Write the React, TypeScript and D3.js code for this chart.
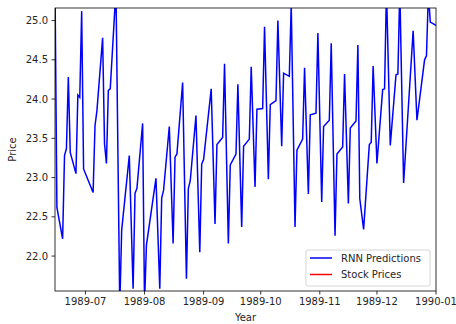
import React, { useEffect } from 'react';
import * as d3 from 'd3';

// RNN predictions (turning points only)
const dates = [
  '1989-06-15', '1989-06-16', '1989-06-19', '1989-06-20', '1989-06-21', '1989-06-22', '1989-06-23',
  '1989-06-26', '1989-06-27', '1989-06-28', '1989-06-29', '1989-06-30', '1989-07-05', '1989-07-06',
  '1989-07-07', '1989-07-10', '1989-07-11', '1989-07-12', '1989-07-13', '1989-07-14', '1989-07-17',
  '1989-07-19', '1989-07-20', '1989-07-24', '1989-07-26', '1989-07-27', '1989-07-28', '1989-07-31',
  '1989-08-01', '1989-08-02', '1989-08-07', '1989-08-09', '1989-08-10', '1989-08-11', '1989-08-14',
  '1989-08-16', '1989-08-17', '1989-08-18', '1989-08-21', '1989-08-23', '1989-08-24', '1989-08-25',
  '1989-08-28', '1989-08-30', '1989-08-31', '1989-09-01', '1989-09-05', '1989-09-07', '1989-09-08',
  '1989-09-11', '1989-09-12', '1989-09-14', '1989-09-15', '1989-09-18', '1989-09-19', '1989-09-21',
  '1989-09-22', '1989-09-25', '1989-09-26', '1989-09-28', '1989-09-29', '1989-10-02', '1989-10-03',
  '1989-10-05', '1989-10-06', '1989-10-09', '1989-10-10', '1989-10-12', '1989-10-13', '1989-10-16',
  '1989-10-17', '1989-10-19', '1989-10-20', '1989-10-23', '1989-10-24', '1989-10-26', '1989-10-27',
  '1989-10-30', '1989-10-31', '1989-11-02', '1989-11-03', '1989-11-06', '1989-11-07', '1989-11-09',
  '1989-11-10', '1989-11-13', '1989-11-14', '1989-11-16', '1989-11-17', '1989-11-20', '1989-11-21',
  '1989-11-22', '1989-11-24', '1989-11-27', '1989-11-28', '1989-11-29', '1989-12-01', '1989-12-04',
  '1989-12-05', '1989-12-06', '1989-12-08', '1989-12-11', '1989-12-12', '1989-12-13', '1989-12-15',
  '1989-12-20', '1989-12-22', '1989-12-26', '1989-12-27', '1989-12-28', '1989-12-29', '1990-01-01',
];

const predictions = [
  25.45, 22.62, 22.22, 23.28, 23.37, 24.28, 23.32,
  23.05, 24.05, 24.02, 25.12, 23.11, 22.81, 23.66,
  23.85, 24.78, 23.43, 23.18, 24.11, 24.13, 25.4,
  21.35, 22.33, 23.28, 21.585, 22.8, 22.86, 23.69,
  21.4, 22.14, 22.99, 21.585, 22.74, 22.84, 23.65,
  22.16, 23.26, 23.3, 24.21, 21.71, 22.86, 22.96,
  23.79, 22.05, 23.17, 23.23, 24.13, 22.41, 23.42,
  23.51, 24.45, 22.16, 23.16, 23.3, 24.19, 22.37,
  23.4, 23.49, 24.41, 22.88, 23.87, 23.88, 24.92,
  22.98, 23.93, 23.98, 25.0, 23.4, 24.33, 24.29,
  25.2, 22.37, 23.35, 23.49, 24.4, 22.79, 23.8,
  23.82, 24.84, 22.69, 23.65, 23.73, 24.71, 22.26,
  23.3, 23.39, 24.32, 22.67, 23.63, 23.72, 24.69,
  22.73, 22.34, 23.42, 23.45, 24.42, 23.18, 24.12,
  24.13, 25.4, 23.41, 24.31, 24.32, 25.4, 22.93,
  24.87, 23.73, 24.5, 24.55, 25.35, 24.98, 24.94,
];

const yTicks = [22.0, 22.5, 23.0, 23.5, 24.0, 24.5, 25.0];
const xTicks = ['1989-07-01', '1989-08-01', '1989-09-01', '1989-10-01', '1989-11-01', '1989-12-01', '1990-01-01'];
const legendItems = [
  { label: 'RNN Predictions', color: '#0000ff' },
  { label: 'Stock Prices', color: '#ff0000' },
];

const W = 456;
const H = 324;
const m = { left: 55, right: 20, top: 8, bottom: 33 };
const font = 'DejaVu Sans, sans-serif';

export default function App() {
  useEffect(() => {
    document.body.style.margin = '0';
  }, []);

  const parse = d3.utcParse('%Y-%m-%d');
  const points = dates.map((d, i) => ({ date: parse(d) as Date, value: predictions[i] }));

  const x = d3
    .scaleUtc()
    .domain(d3.extent(points, (p) => p.date) as [Date, Date])
    .range([m.left, W - m.right]);
  const y = d3.scaleLinear().domain([21.555, 25.16]).range([H - m.bottom, m.top]);

  const line = d3
    .line<{ date: Date; value: number }>()
    .x((p) => x(p.date))
    .y((p) => y(p.value));

  const fmt = d3.utcFormat('%Y-%m');
  const x0 = m.left;
  const x1 = W - m.right;
  const y0 = H - m.bottom;
  const y1 = m.top;

  return (
    <svg width={W} height={H} style={{ display: 'block', background: '#fff' }} fontFamily={font}>
      <defs>
        <clipPath id="plot">
          <rect x={x0} y={y1} width={x1 - x0} height={y0 - y1} />
        </clipPath>
      </defs>

      <path d={line(points) ?? ''} fill="none" stroke="#0000ff" strokeWidth={1.5} clipPath="url(#plot)" />

      {/* spines */}
      <rect x={x0} y={y1} width={x1 - x0} height={y0 - y1} fill="none" stroke="#000" strokeWidth={0.8} />

      {yTicks.map((t) => (
        <g key={t}>
          <line x1={x0} x2={x0 - 3.5} y1={y(t)} y2={y(t)} stroke="#000" strokeWidth={0.8} />
          <text x={x0 - 7} y={y(t)} dy="0.35em" textAnchor="end" fontSize={10} fill="#262626">
            {t.toFixed(1)}
          </text>
        </g>
      ))}

      {xTicks.map((t) => {
        const d = parse(t) as Date;
        return (
          <g key={t}>
            <line x1={x(d)} x2={x(d)} y1={y0} y2={y0 + 3.5} stroke="#000" strokeWidth={0.8} />
            <text x={x(d)} y={y0 + 14} textAnchor="middle" fontSize={10} fill="#262626">
              {fmt(d)}
            </text>
          </g>
        );
      })}

      <text x={(x0 + x1) / 2} y={H - 3} textAnchor="middle" fontSize={10} fill="#262626">
        Year
      </text>
      <text
        transform={`translate(16,${(y0 + y1) / 2}) rotate(-90)`}
        textAnchor="middle"
        fontSize={10}
        fill="#262626"
      >
        Price
      </text>

      {/* legend */}
      <g transform={`translate(${x1 - 130},${y0 - 41})`}>
        <rect width={124} height={36} rx={2} fill="#fff" fillOpacity={0.8} stroke="#cccccc" strokeWidth={0.8} />
        {legendItems.map((it, i) => (
          <g key={it.label} transform={`translate(0,${8 + i * 16.5})`}>
            <line x1={4} x2={26} y1={0} y2={0} stroke={it.color} strokeWidth={1.5} />
            <text x={35} y={0} dy="0.35em" fontSize={10} fill="#262626">
              {it.label}
            </text>
          </g>
        ))}
      </g>
    </svg>
  );
}
